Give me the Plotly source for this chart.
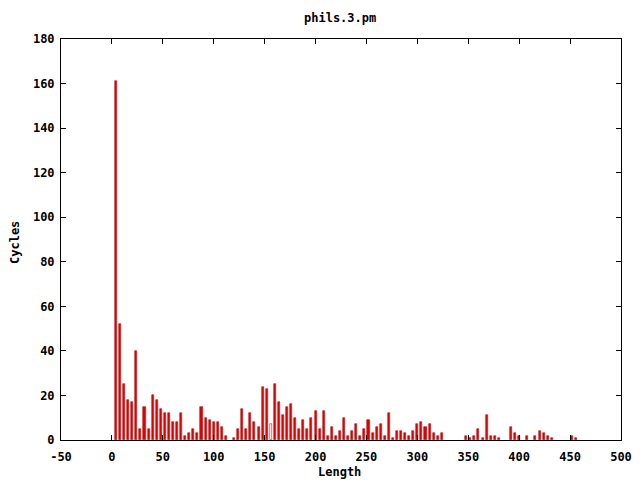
import plotly.graph_objects as go

# Bin lengths and cycle counts
lengths = [4, 8, 12, 16, 20, 24, 28, 32, 36, 40, 44, 48, 52, 56, 60, 64, 68, 72, 76, 80,
           84, 88, 92, 96, 100, 104, 108, 112, 120, 124, 128, 132, 136, 140, 144, 148, 152,
           156, 160, 164, 168, 172, 176, 180, 184, 188, 192, 196, 200, 204, 208, 212, 216,
           220, 224, 228, 232, 236, 240, 244, 248, 252, 256, 260, 264, 268, 272, 276, 280,
           284, 288, 292, 296, 300, 304, 308, 312, 316, 320, 324,
           348, 352, 356, 360, 364, 368, 372, 376, 380,
           392, 396, 400, 408, 416, 420, 424, 428, 432, 452, 456]
cycles = [161, 52, 25, 18, 17, 40, 5, 15, 5, 20, 18, 14, 12, 12, 8, 8, 12, 2, 3, 5,
          3, 15, 10, 9, 8, 8, 6, 2, 1, 5, 14, 5, 12, 8, 6, 24, 23,
          7, 25, 17, 11, 15, 16, 10, 5, 9, 5, 10, 13, 5, 13, 2, 6,
          2, 4, 10, 2, 4, 7, 2, 5, 9, 3, 6, 7, 2, 12, 1, 4,
          4, 3, 2, 4, 7, 8, 6, 7, 3, 2, 3,
          2, 1, 2, 5, 1, 11, 2, 2, 1,
          6, 3, 2, 2, 2, 4, 3, 2, 1, 2, 1]

x_ticks = [-50, 0, 50, 100, 150, 200, 250, 300, 350, 400, 450, 500]
y_ticks = [0, 20, 40, 60, 80, 100, 120, 140, 160, 180]

title_text = "phils.3.pm"
x_title = "Length"
y_title = "Cycles"

RED = "#e00000"
fills = [("white" if (L == 156) else RED) for L in lengths]

font = dict(family="DejaVu Sans Mono", size=12, color="black", weight="bold")

fig = go.Figure(go.Bar(
    x=lengths, y=cycles, width=2,
    marker=dict(color=fills, line=dict(color="#c01818", width=0.6)),
))

axis_common = dict(showline=True, linecolor="black", linewidth=1, mirror="ticks",
                   ticks="inside", ticklen=5, tickcolor="black", showgrid=False,
                   zeroline=False, tickfont=font, automargin=False)

# The page body adds an 8px offset; the figure is sized to fill the remaining window.
fig.update_layout(
    width=632, height=472,
    margin=dict(l=53, r=19, t=31, b=40),
    paper_bgcolor="white", plot_bgcolor="white",
    showlegend=False, bargap=0,
    xaxis=dict(range=[-50, 500], tickvals=x_ticks, ticktext=[str(v) for v in x_ticks],
               ticklabelstandoff=6, **axis_common),
    yaxis=dict(range=[0, 180], tickvals=y_ticks, ticktext=[str(v) for v in y_ticks],
               ticklabelstandoff=3, **axis_common),
    annotations=[
        dict(text=title_text, xref="paper", yref="paper", x=(340 - 61) / 560,
             y=(440 - 18) / 401, showarrow=False, font=font,
             xanchor="center", yanchor="middle"),
        dict(text=x_title, xref="paper", yref="paper", x=(339 - 61) / 560,
             y=(440 - 472) / 401, showarrow=False, font=font,
             xanchor="center", yanchor="middle"),
        dict(text=y_title, xref="paper", yref="paper", x=(15 - 61) / 560,
             y=(440 - 243) / 401, showarrow=False, font=font, textangle=-90,
             xanchor="center", yanchor="middle"),
    ],
)

fig.write_html("out.html")
